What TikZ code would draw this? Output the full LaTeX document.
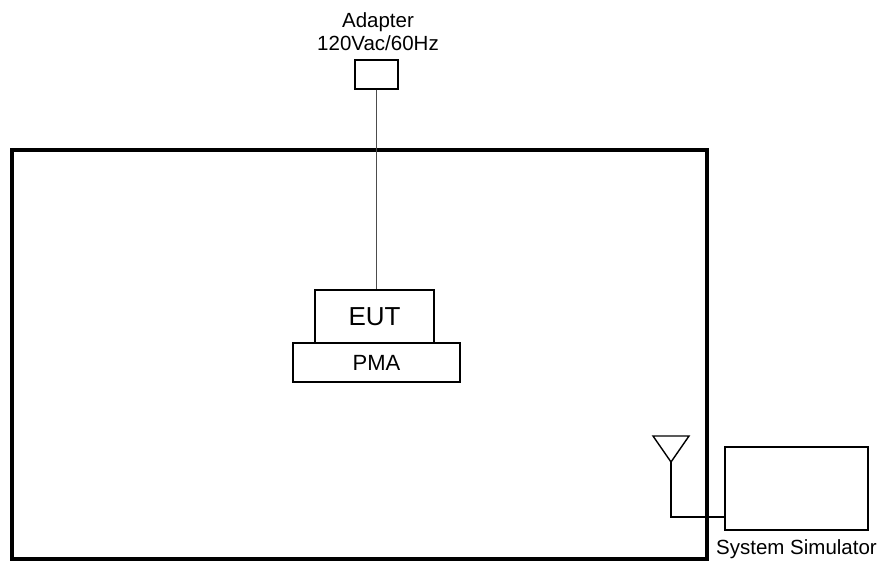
\documentclass[tikz,border=0pt]{standalone}
\usepackage{fontspec}
\setmainfont{Liberation Sans}
\usetikzlibrary{positioning}

\begin{document}
\begin{tikzpicture}[x=1pt, y=-1pt,
    box/.style={draw, line width=1.3pt, inner sep=0pt},
    txt/.style={inner sep=0pt, font=\fontsize{20.5}{23}\selectfont},
    wall/.style={line width=4.5pt},
    cable/.style={line width=1.4pt}]
    \useasboundingbox (0,0) rectangle (885,562);

    % chamber
    \draw[wall] (12,150) rectangle (707,559);

    \node[box, minimum width=43pt, minimum height=29pt] at (376.5,74.5)(adapter){};
    \node[txt, align=center, anchor=south] at (378,51)(adaptertxt){Adapter\\120Vac/60Hz};
    \node[box, minimum width=119pt, minimum height=53pt, font=\fontsize{26}{30}\selectfont] at (374.5,316.5)(eut){EUT};
    \node[box, minimum width=167pt, minimum height=39pt, font=\fontsize{22}{26}\selectfont] at (376.5,362.5)(pma){PMA};
    \node[box, minimum width=143pt, minimum height=83pt] at (796.5,488.5)(sim){};
    \node[txt, anchor=base] at (796.5,554)(simtxt){System Simulator};

    % antenna
    \coordinate (antenna) at (671,462);
    \coordinate (feed) at (671,517);
    \draw[cable, line join=miter] (653,436) -- (689,436) -- (antenna) -- cycle;

    \draw[cable, line width=1.8pt, draw=black!70] (adapter.south) -- (adapter.south |- eut.north);
    \draw[cable] (antenna) -- (feed) -- (feed -| sim.west);
\end{tikzpicture}
\end{document}
